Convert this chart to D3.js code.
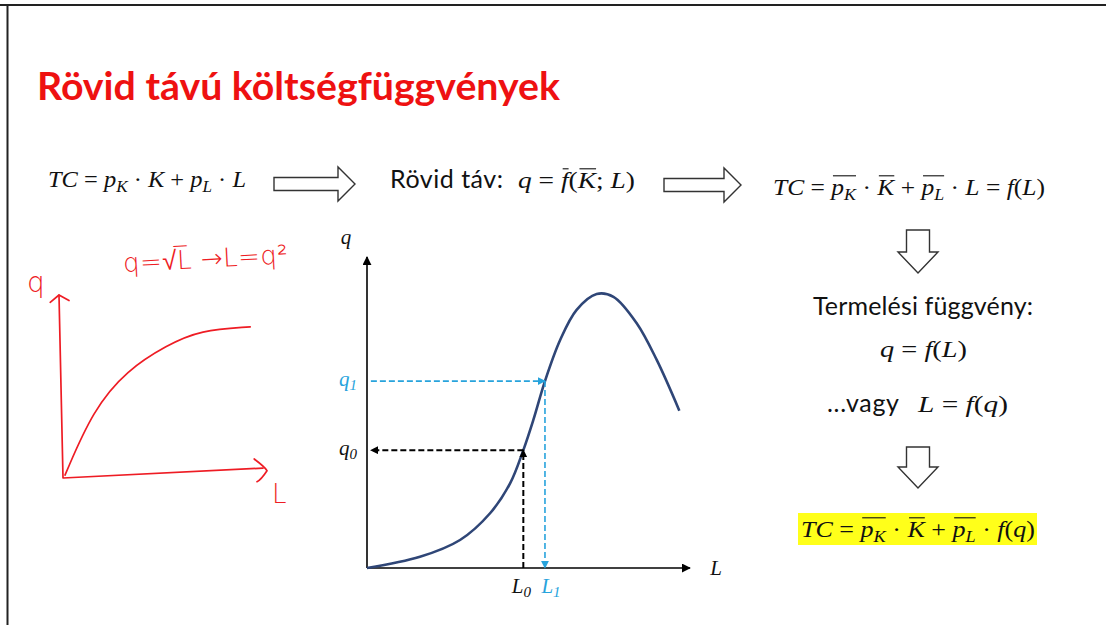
<!DOCTYPE html>
<html>
<head>
<meta charset="utf-8">
<script src="https://cdn.jsdelivr.net/npm/d3@7"></script>
<style>
  body { margin: 0; background: #fff; }
  svg { display: block; }
</style>
</head>
<body>
<svg id="slide" width="1106" height="625"></svg>
<script>
// production curve (L and q in arbitrary units 0..10)
const L_VALUES = [0, 1.64, 2.88, 3.81, 4.43, 4.84, 5.15, 5.51, 5.98, 6.49, 7.11, 7.63, 8.35, 8.97, 9.67];
const Q_VALUES = [0, 0.36, 0.90, 1.76, 2.72, 3.79, 4.76, 6.01, 7.33, 8.30, 8.81, 8.72, 7.87, 6.69, 5.06];
// marked points
const POINT_L = [4.84, 5.51];
const POINT_Q = [3.79, 6.01];
const POINT_NAMES = ["0", "1"];

// hand drawn sketch q = sqrt(L)
const SKETCH_L = [0.05, 0.75, 1.6, 2.6, 3.43, 4.68];
const SKETCH_Q = [0.08, 1.86, 2.95, 3.63, 4.04, 4.13];

const TITLE = "Rövid távú költségfüggvények";

const NAVY = "#2f4677";
const BLUE = "#27a3dc";
const RED = "#ee1c24";
const MATH_FONT = "'Liberation Serif', 'DejaVu Serif', serif";
const SANS_FONT = "Lato, 'Open Sans', sans-serif";

let svg = d3.select("#slide");

// frame
svg.append("line").attr("x1", 0).attr("x2", 1106).attr("y1", 5).attr("y2", 5)
  .style("stroke", "#222").style("stroke-width", 2);
svg.append("line").attr("x1", 7.5).attr("x2", 7.5).attr("y1", 5).attr("y2", 625)
  .style("stroke", "#222").style("stroke-width", 2);

// title
svg.append("text")
  .attr("x", 37).attr("y", 100)
  .attr("textLength", 523)
  .attr("lengthAdjust", "spacingAndGlyphs")
  .style("font-family", SANS_FONT)
  .style("font-weight", "bold")
  .style("font-size", "39px")
  .style("fill", "#ee1111")
  .text(TITLE);

// markers
let defs = svg.append("defs");
function marker(id, color, size) {
  defs.append("marker")
    .attr("id", id)
    .attr("viewBox", "0 0 10 10")
    .attr("refX", 9).attr("refY", 5)
    .attr("markerWidth", size).attr("markerHeight", size)
    .attr("markerUnits", "userSpaceOnUse")
    .attr("orient", "auto")
    .append("path")
    .attr("d", "M0,0 L10,5 L0,10 Z")
    .style("fill", color);
}
marker("arrow-axis", "#000", 9);
marker("arrow-black", "#000", 8);
marker("arrow-blue", BLUE, 8);

// math text helper: pieces placed one after another, measured as we go
function mathText(g, y, size, pieces) {
  let cx = 0;
  let bar_start = null;
  let bars = [];
  pieces.forEach((p, i) => {
    let fs = p.sub ? size * 0.7 : size;
    let t = g.append("text")
      .attr("x", cx)
      .attr("y", p.sub ? y + size * 0.22 : y)
      .style("font-family", p.sans ? SANS_FONT : MATH_FONT)
      .style("font-style", p.i ? "italic" : "normal")
      .style("font-size", (p.sans ? size * 1.05 : fs) + "px")
      .style("fill", p.color || "#111")
      .style("white-space", "pre")
      .text(p.t);
    let w = t.node().getComputedTextLength();
    if (p.bar && bar_start == null) bar_start = cx;
    cx += w;
    let next = pieces[i + 1];
    if (p.bar && (!next || !next.bar)) {
      bars.push([bar_start + 1.5, cx]);
      bar_start = null;
    }
  });
  bars.forEach((b) => {
    g.append("line")
      .attr("x1", b[0]).attr("x2", b[1])
      .attr("y1", y - size * 0.8).attr("y2", y - size * 0.8)
      .style("stroke", "#111").style("stroke-width", 1.1);
  });
  return cx;
}

// place formula from x0 and stretch it to the measured width
function formula(x0, y, size, width, pieces) {
  let g = svg.append("g");
  let w = mathText(g, y, size, pieces);
  g.attr("transform", `translate(${x0},0) scale(${width / w},1)`);
}

const I = (t) => ({ t: t, i: true });
const N = (t) => ({ t: t });
const S = (t) => ({ t: t, i: true, sub: true });
const B = (t) => ({ t: t, i: true, bar: true });
const BS = (t) => ({ t: t, i: true, sub: true, bar: true });

// top row
formula(48, 187, 24, 198, [
  I("TC"), N(" = "), I("p"), S("K"), N(" · "), I("K"), N(" + "), I("p"), S("L"), N(" · "), I("L")
]);
svg.append("text")
  .attr("x", 390).attr("y", 188)
  .attr("textLength", 113)
  .style("font-family", SANS_FONT).style("font-size", "25px").style("fill", "#111")
  .text("Rövid táv:");
formula(518, 188, 24, 117, [
  I("q"), N(" = "), B("f"), N("("), B("K"), N("; "), I("L"), N(")")
]);
formula(773, 195, 24, 272, [
  I("TC"), N(" = "), B("p"), BS("K"), N(" · "), B("K"), N(" + "), B("p"), BS("L"),
  N(" · "), I("L"), N(" = "), I("f"), N("("), I("L"), N(")")
]);

// hollow arrows
function rightArrow(x0, x1, cy) {
  let head = 17, shaft = 6.5, hh = 17;
  svg.append("path")
    .attr("d", `M${x0},${cy - shaft} L${x1 - head},${cy - shaft} L${x1 - head},${cy - hh} L${x1},${cy}
      L${x1 - head},${cy + hh} L${x1 - head},${cy + shaft} L${x0},${cy + shaft} Z`)
    .style("fill", "#fff").style("stroke", "#333").style("stroke-width", 1.4);
}
function downArrow(cx, y0, y1) {
  let head = 21, shaft = 11.5, hw = 20;
  svg.append("path")
    .attr("d", `M${cx - shaft},${y0} L${cx + shaft},${y0} L${cx + shaft},${y1 - head} L${cx + hw},${y1 - head}
      L${cx},${y1} L${cx - hw},${y1 - head} L${cx - shaft},${y1 - head} Z`)
    .style("fill", "#fff").style("stroke", "#333").style("stroke-width", 1.4);
}
rightArrow(274, 355, 184);
rightArrow(664, 741, 185);
downArrow(918, 230, 273);
downArrow(918, 447, 488);

// right column
svg.append("text")
  .attr("x", 813).attr("y", 315)
  .attr("textLength", 220)
  .style("font-family", SANS_FONT).style("font-size", "25px").style("fill", "#111")
  .text("Termelési függvény:");
formula(880, 357, 24, 87, [I("q"), N(" = "), I("f"), N("("), I("L"), N(")")]);
svg.append("text")
  .attr("x", 827).attr("y", 412)
  .attr("textLength", 72)
  .style("font-family", SANS_FONT).style("font-size", "25px").style("fill", "#111")
  .text("...vagy");
formula(918, 412, 24, 90, [I("L"), N(" = "), I("f"), N("("), I("q"), N(")")]);

svg.append("rect").attr("fill", "#ffff1a")
  .attr("x", 798).attr("y", 513).attr("width", 239).attr("height", 32);
formula(801, 537, 24, 234, [
  I("TC"), N(" = "), B("p"), BS("K"), N(" · "), B("K"), N(" + "), B("p"), BS("L"),
  N(" · "), I("f"), N("("), I("q"), N(")")
]);

// main chart
let x = d3.scaleLinear().domain([0, 10]).range([367, 690]);
let y = d3.scaleLinear().domain([0, 10]).range([568, 257]);

let chart = svg.append("g");
chart.append("line")
  .attr("x1", x(0)).attr("y1", y(0)).attr("x2", x(10)).attr("y2", y(0))
  .style("stroke", "#000").style("stroke-width", 1.6)
  .attr("marker-end", "url(#arrow-axis)");
chart.append("line")
  .attr("x1", x(0)).attr("y1", y(0)).attr("x2", x(0)).attr("y2", y(10))
  .style("stroke", "#000").style("stroke-width", 1.6)
  .attr("marker-end", "url(#arrow-axis)");

let line = d3.line()
  .x((d) => x(d[0]))
  .y((d) => y(d[1]))
  .curve(d3.curveCatmullRom.alpha(0.5));
chart.append("path")
  .datum(d3.zip(L_VALUES, Q_VALUES))
  .attr("d", line)
  .style("fill", "none")
  .style("stroke", NAVY)
  .style("stroke-width", 2.6);

// dashed guides: point 0 goes L -> curve -> q, point 1 goes q -> curve -> L
let x_axis_gap = 0.12;
chart.append("line")
  .attr("x1", x(POINT_L[0])).attr("y1", y(0)).attr("x2", x(POINT_L[0])).attr("y2", y(POINT_Q[0]))
  .style("stroke", "#000").style("stroke-width", 2).style("stroke-dasharray", "6,3")
  .attr("marker-end", "url(#arrow-black)");
chart.append("line")
  .attr("x1", x(POINT_L[0])).attr("y1", y(POINT_Q[0])).attr("x2", x(x_axis_gap)).attr("y2", y(POINT_Q[0]))
  .style("stroke", "#000").style("stroke-width", 2).style("stroke-dasharray", "6,3")
  .attr("marker-end", "url(#arrow-black)");
chart.append("line")
  .attr("x1", x(x_axis_gap)).attr("y1", y(POINT_Q[1])).attr("x2", x(POINT_L[1])).attr("y2", y(POINT_Q[1]))
  .style("stroke", BLUE).style("stroke-width", 1.6).style("stroke-dasharray", "6,3")
  .attr("marker-end", "url(#arrow-blue)");
chart.append("line")
  .attr("x1", x(POINT_L[1])).attr("y1", y(POINT_Q[1])).attr("x2", x(POINT_L[1])).attr("y2", y(0))
  .style("stroke", BLUE).style("stroke-width", 1.6).style("stroke-dasharray", "6,3")
  .attr("marker-end", "url(#arrow-blue)");

// axis labels
function subLabel(px, py, base, sub, color, anchor) {
  let t = chart.append("text")
    .attr("x", px).attr("y", py)
    .attr("text-anchor", anchor)
    .style("font-family", MATH_FONT).style("font-style", "italic")
    .style("font-size", "21px").style("fill", color);
  t.append("tspan").text(base);
  if (sub != null) {
    t.append("tspan").attr("dy", 4).style("font-size", "15px").text(sub);
  }
}
subLabel(x(0) - 21, y(10) - 13, "q", null, "#111", "middle");
subLabel(x(10) + 26, y(0) + 7, "L", null, "#111", "middle");
POINT_NAMES.forEach((n, i) => {
  let c = i == 0 ? "#111" : BLUE;
  subLabel(x(0) - 10, y(POINT_Q[i]) + 5, "q", n, c, "end");
  subLabel(x(POINT_L[i]) + (i == 0 ? -2 : 6), y(0) + 25, "L", n, c, "middle");
});

// hand drawn sketch
let sx = d3.scaleLinear().domain([0, 5]).range([63, 263]);
let sy = d3.scaleLinear().domain([0, 5]).range([478, 295]);
let sketch = svg.append("g")
  .style("fill", "none").style("stroke", RED)
  .style("stroke-width", 1.7).style("stroke-linecap", "round").style("stroke-linejoin", "round");
sketch.append("path")
  .attr("d", `M${sx(-0.1)},${sy(5)} L${sx(0)},${sy(0)} L${sx(5)},${sy(0.27)}`);
sketch.append("path")
  .attr("d", `M${sx(-0.32)},${sy(4.8)} L${sx(-0.1)},${sy(5)} L${sx(0.15)},${sy(4.85)}`);
sketch.append("path")
  .attr("d", `M${sx(4.78)},${sy(0.52)} Q${sx(5.05)},${sy(0.3)} ${sx(5.1)},${sy(0.2)} Q${sx(4.95)},${sy(-0.05)} ${sx(4.85)},${sy(-0.1)}`);
sketch.append("path")
  .datum(d3.zip(SKETCH_L, SKETCH_Q))
  .attr("d", d3.line().x((d) => sx(d[0])).y((d) => sy(d[1])).curve(d3.curveBasis));

svg.append("text")
  .attr("x", 27).attr("y", 292)
  .style("font-family", "'DejaVu Sans', sans-serif").style("font-size", "28px")
  .style("fill", RED).style("font-weight", 200)
  .text("q");
svg.append("text")
  .attr("x", 272).attr("y", 503)
  .style("font-family", "'DejaVu Sans', sans-serif").style("font-size", "26px")
  .style("fill", RED).style("font-weight", 200)
  .text("L");
svg.append("text")
  .attr("x", 123).attr("y", 268)
  .attr("textLength", 165)
  .attr("transform", "rotate(-3 200 260)")
  .style("font-family", "'DejaVu Sans', sans-serif").style("font-size", "26px")
  .style("fill", RED).style("font-weight", 200)
  .text("q=√L̅ →L=q²");
</script>
</body>
</html>
